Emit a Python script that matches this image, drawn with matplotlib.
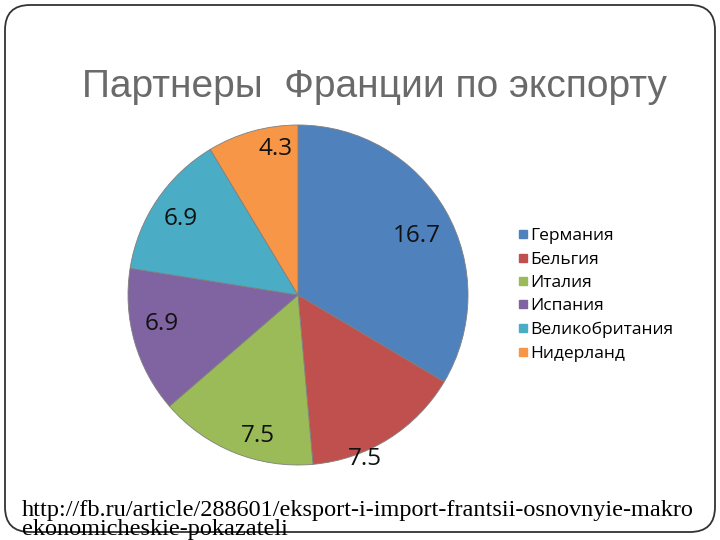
import numpy as np
import matplotlib
matplotlib.use("Agg")
import matplotlib.pyplot as plt
from matplotlib.patches import FancyBboxPatch
from matplotlib.lines import Line2D

countries = ["Германия", "Бельгия", "Италия", "Испания", "Великобритания", "Нидерланд"]
values = [16.7, 7.5, 7.5, 6.9, 6.9, 4.3]
value_labels = ["16.7", "7.5", "7.5", "6.9", "6.9", "4.3"]
title = "Партнеры  Франции по экспорту"
source_lines = ["http://fb.ru/article/288601/eksport-i-import-frantsii-osnovnyie-makro",
                "ekonomicheskie-pokazateli"]

colors = ["#4F81BD", "#C0504D", "#9BBB59", "#8064A2", "#4BACC6", "#F79646"]
label_radius = [0.78, 1.04, 0.86, 0.82, 0.82, 0.87]
label_angle_shift = [-3, -10, 6, -4, 1, -7]

W, H = 720, 540
fig = plt.figure(figsize=(7.2, 5.4), dpi=100)

bg = fig.add_axes([0, 0, 1, 1])
bg.set_xlim(0, W)
bg.set_ylim(H, 0)
bg.axis("off")
box = FancyBboxPatch((5, 5), 710, 527, boxstyle="round,pad=0,rounding_size=25",
                     facecolor="white", edgecolor="#333333", linewidth=1.3)
bg.add_patch(box)

bg.text(374, 97, title, fontsize=28, color="#6a6a6a",
        family=["Liberation Sans Narrow", "Liberation Sans", "DejaVu Sans"],
        ha="center", va="baseline")

# pie axes: center (298,295), radius 170 px
cx, cy, r = 298, 295, 170
ax = fig.add_axes([(cx - r) / W, (H - cy - r) / H, 2 * r / W, 2 * r / H])
wedges, _ = ax.pie(values, colors=colors, startangle=90, counterclock=False,
                   wedgeprops=dict(edgecolor="#7f7f7f", linewidth=0.6))
ax.set_xlim(-1, 1)
ax.set_ylim(-1, 1)
ax.set_aspect("equal")
ax.axis("off")

for w, lab, rr, sh in zip(wedges, value_labels, label_radius, label_angle_shift):
    th = np.deg2rad((w.theta1 + w.theta2) / 2 + sh)
    ax.text(rr * np.cos(th), rr * np.sin(th), lab, ha="center", va="center",
            fontsize=17.5, color="#111111", family=["Open Sans", "DejaVu Sans"],
            clip_on=False)

handles = [Line2D([], [], marker="s", linestyle="none", markersize=6,
                  markerfacecolor=c, markeredgecolor=c) for c in colors]
leg = fig.legend(handles, countries, loc="upper left",
                 bbox_to_anchor=(518 / W, 1 - 228 / H), frameon=False,
                 prop=dict(family=["Open Sans", "DejaVu Sans"], size=12.5),
                 handlelength=0.6, handletextpad=0.1, labelspacing=0.42,
                 borderpad=0, borderaxespad=0)

for i, line in enumerate(source_lines):
    bg.text(22, 516 + 19 * i, line, fontsize=17.5, color="black",
            family=["Liberation Serif", "DejaVu Serif"], ha="left", va="baseline")

fig.savefig("out.png", dpi=100)
